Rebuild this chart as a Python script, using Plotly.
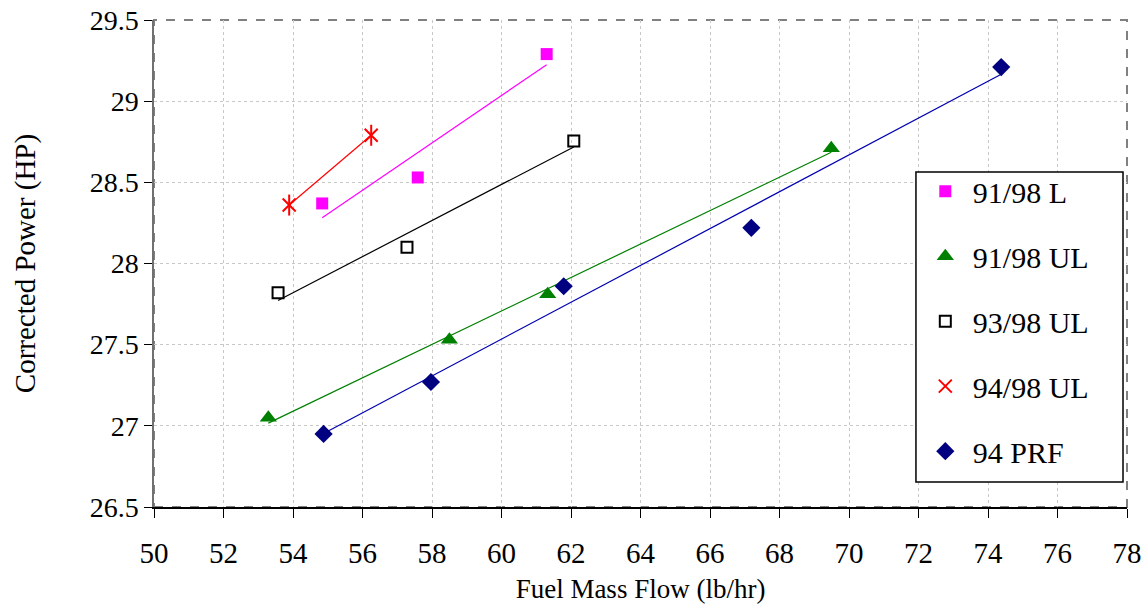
import numpy as np
import plotly.graph_objects as go

# ---- data ----
l9198_x = [54.84, 57.59, 61.30]
l9198_y = [28.37, 28.53, 29.29]

ul9198_x = [53.29, 58.50, 61.33, 69.49]
ul9198_y = [27.05, 27.53, 27.81, 28.71]

ul9398_x = [53.57, 57.28, 62.08]
ul9398_y = [27.82, 28.10, 28.755]

ul9498_x = [53.89, 56.25]
ul9498_y = [28.36, 28.79]

prf94_x = [54.88, 57.97, 61.79, 67.19, 74.38]
prf94_y = [26.95, 27.27, 27.86, 28.22, 29.21]

x_ticks = list(range(50, 80, 2))
y_ticks = [26.5, 27, 27.5, 28, 28.5, 29, 29.5]

FONT = "Liberation Serif, Times New Roman, serif"

series = [
    ("91/98 L", l9198_x, l9198_y, dict(symbol="square", size=12, color="#FF00FF"), "#FF00FF"),
    ("91/98 UL", ul9198_x, ul9198_y, dict(symbol="triangle-up", size=15, color="#008000"), "#008000"),
    ("93/98 UL", ul9398_x, ul9398_y,
     dict(symbol="square-open", size=11, color="#000000", line=dict(width=2, color="#000000")), "#000000"),
    ("94/98 UL", ul9498_x, ul9498_y,
     dict(symbol="x-thin-open", size=13, color="#FF0000", line=dict(width=2, color="#FF0000")), "#FF0000"),
    ("94 PRF", prf94_x, prf94_y, dict(symbol="diamond", size=14, color="#000080"), "#0000B0"),
]

fig = go.Figure()

# trend lines (linear least-squares fits)
for name, xs, ys, mk, lc in series:
    xa = np.array(xs)
    ya = np.array(ys)
    m, b = np.polyfit(xa, ya, 1)
    xl = np.array([xa.min(), xa.max()])
    fig.add_trace(go.Scatter(x=xl, y=m * xl + b, mode="lines",
                             line=dict(color=lc, width=1.2),
                             showlegend=False, hoverinfo="skip",
                             legendgroup=name))

# markers
for name, xs, ys, mk, lc in series:
    fig.add_trace(go.Scatter(x=xs, y=ys, mode="markers", name=name,
                             marker=mk, legendgroup=name))
    if name == "94/98 UL":
        fig.add_trace(go.Scatter(x=xs, y=ys, mode="markers", showlegend=False,
                                 marker=dict(symbol="line-ns-open", size=15, color="#FF0000",
                                             line=dict(width=2, color="#FF0000")),
                                 legendgroup=name, hoverinfo="skip"))

# plot-area border (dashed gray)
fig.add_shape(type="rect", xref="paper", yref="paper", x0=0, y0=0, x1=1, y1=1,
              line=dict(color="#808080", width=2, dash="dash"), layer="below")
# legend frame
fig.add_shape(type="rect", xref="paper", yref="paper", x0=0.7831, y0=0.0513, x1=0.9959, y1=0.6879,
              line=dict(color="black", width=1.5), fillcolor="white", layer="above")

fig.update_layout(
    width=1147, height=609,
    margin=dict(l=154, r=20, t=20, b=102, autoexpand=False),
    paper_bgcolor="white", plot_bgcolor="white",
    font=dict(family=FONT, color="black", size=28),
    showlegend=True,
    legend=dict(
        x=0.785, y=0.702, xanchor="left", yanchor="top",
        bgcolor="rgba(0,0,0,0)", borderwidth=0,
        font=dict(family=FONT, size=30),
        tracegroupgap=23, itemwidth=45,
    ),
    xaxis=dict(
        range=[50, 78], tickvals=x_ticks, ticktext=[str(v) for v in x_ticks],
        showgrid=True, gridcolor="#C8C8C8", griddash="dot", gridwidth=1,
        showline=True, linecolor="black", linewidth=1.5,
        ticks="outside", ticklen=9, tickcolor="black", tickwidth=1.2,
        tickfont=dict(family=FONT, size=29), ticklabelstandoff=10,
        title=dict(text="Fuel Mass Flow (lb/hr)", font=dict(family=FONT, size=27), standoff=12),
        zeroline=False, automargin=False,
    ),
    yaxis=dict(
        range=[26.5, 29.5], tickvals=y_ticks, ticktext=[("%g" % v) for v in y_ticks],
        showgrid=True, gridcolor="#C8C8C8", griddash="dot", gridwidth=1,
        showline=True, linecolor="#707070", linewidth=1.5,
        ticks="outside", ticklen=8, tickcolor="black", tickwidth=1.2,
        tickfont=dict(family=FONT, size=28),
        title=dict(text="Corrected Power (HP)", font=dict(family=FONT, size=29), standoff=46),
        zeroline=False, automargin=False,
    ),
)

fig.write_html("out.html", config={"displayModeBar": False},
               post_script="document.body.style.margin='0px';")
